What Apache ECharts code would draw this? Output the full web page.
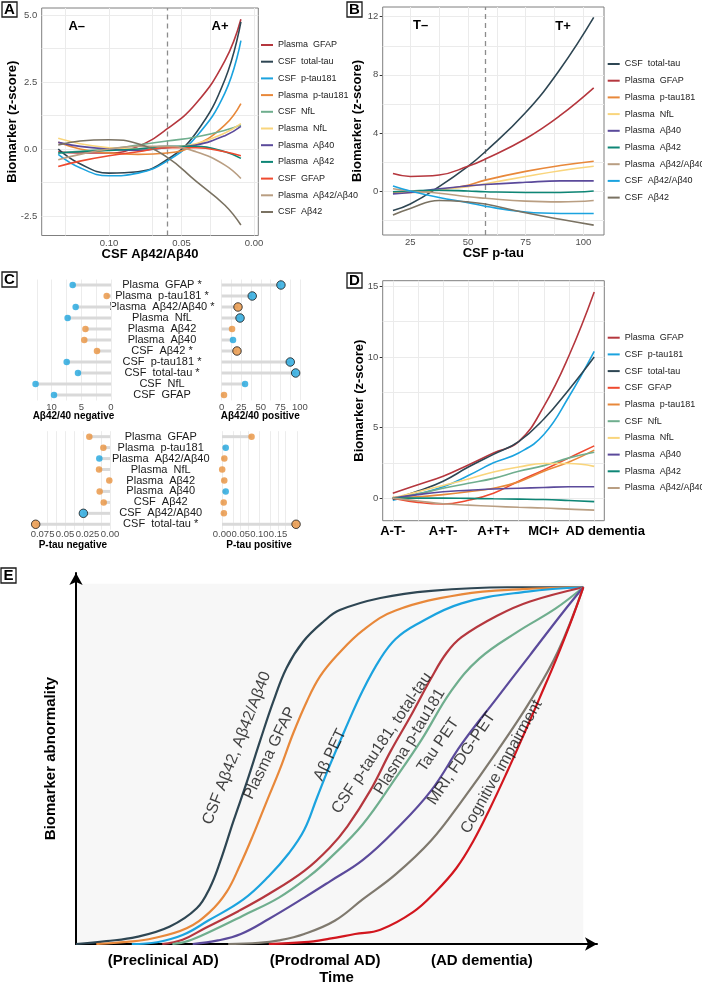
<!DOCTYPE html>
<html><head><meta charset="utf-8">
<script src="https://cdn.jsdelivr.net/npm/echarts@6/dist/echarts.min.js"></script>
<style>html,body{margin:0;padding:0;background:#fff}#c{width:702px;height:991px}</style>
</head><body><div id="c"></div>
<script>
const FONT = 'Liberation Sans, Arial, Helvetica, sans-serif';

// ---------- Panel A : CSF Aβ42/Aβ40 ----------
const aX = [0.135, 0.12, 0.10, 0.08, 0.06, 0.04, 0.02, 0.009];
const A_PlasmaGFAP    = [-0.1, -0.15, -0.15, 0.1, 0.75, 1.7, 3.3, 4.85];
const A_CSFtotaltau   = [0, -0.55, -0.9, -0.85, -0.4, 0.6, 2.6, 4.75];
const A_CSFptau181    = [-0.2, -0.7, -1.0, -0.9, -0.45, 0.45, 2.1, 4.05];
const A_Plasmaptau181 = [0.25, 0.0, -0.15, -0.2, -0.15, 0.15, 0.9, 1.7];
const A_CSFNfL        = [-0.15, -0.08, 0.0, 0.15, 0.3, 0.45, 0.7, 0.9];
const A_PlasmaNfL     = [0.4, 0.2, 0.05, 0.0, 0.05, 0.2, 0.6, 0.95];
const A_PlasmaAb40    = [0.25, 0.1, 0.0, -0.05, 0.05, 0.15, 0.5, 0.85];
const A_PlasmaAb42    = [-0.15, -0.1, -0.05, 0.0, 0.1, 0.1, -0.1, -0.35];
const A_CSFGFAP       = [-0.65, -0.45, -0.25, -0.1, 0.05, 0.05, -0.1, -0.25];
const A_PlasmaAb4240  = [-0.4, -0.2, 0.0, 0.1, 0.1, -0.1, -0.6, -1.1];
const A_CSFAb42       = [0.15, 0.3, 0.35, 0.2, -0.3, -1.2, -2.1, -2.84];
const aCut = 0.06;
const aXTicks = [0, 0.05, 0.10], aXTickText = ['0.00', '0.05', '0.10'];
const aYTicks = [-2.5, 0, 2.5, 5], aYTickText = ['-2.5', '0.0', '2.5', '5.0'];
const aXGrid = [0, 0.025, 0.05, 0.075, 0.1, 0.125];
const aYGrid = [-2.5, -1.25, 0, 1.25, 2.5, 3.75, 5];

// ---------- Panel B : CSF p-tau ----------
const bX = [17.5, 25, 37.5, 50, 57.5, 75, 90, 104.5];
const B_CSFtotaltau   = [-1.35, -0.9, 0.3, 1.7, 2.7, 5.4, 8.4, 11.95];
const B_PlasmaGFAP    = [1.2, 1.0, 1.1, 1.7, 2.2, 3.6, 5.2, 7.1];
const B_Plasmaptau181 = [-0.1, -0.1, 0.1, 0.4, 0.75, 1.35, 1.75, 2.05];
const B_PlasmaNfL     = [-0.15, -0.1, 0.1, 0.3, 0.5, 1.0, 1.4, 1.7];
const B_PlasmaAb40    = [-0.2, -0.1, 0.15, 0.35, 0.45, 0.6, 0.7, 0.7];
const B_PlasmaAb42    = [-0.05, 0, 0.05, 0, -0.05, -0.1, -0.1, 0];
const B_PlasmaAb4240  = [0.15, 0, -0.15, -0.4, -0.5, -0.7, -0.75, -0.65];
const B_CSFAb4240     = [0.35, 0, -0.45, -0.8, -1.05, -1.45, -1.55, -1.55];
const B_CSFAb42       = [-1.65, -1.2, -0.65, -0.75, -0.9, -1.5, -1.95, -2.35];
const bCut = 57.5;
const bXTicks = [25, 50, 75, 100], bXTickText = ['25', '50', '75', '100'];
const bYTicks = [0, 4, 8, 12], bYTickText = ['0', '4', '8', '12'];
const bXGrid = [25, 37.5, 50, 62.5, 75, 87.5, 100];
const bYGrid = [-2, 0, 2, 4, 6, 8, 10, 12];

// ---------- Panel C : lollipops ----------
const cTopCats = ['Plasma  GFAP *', 'Plasma  p-tau181 *', 'Plasma  Aβ42/Aβ40 *', 'Plasma  NfL', 'Plasma  Aβ42', 'Plasma  Aβ40', 'CSF  Aβ42 *', 'CSF  p-tau181 *', 'CSF  total-tau *', 'CSF  NfL', 'CSF  GFAP'];
const cTopNeg    = [6.45, 0.73, 5.95, 7.3, 4.3, 4.5, 2.36, 7.46, 5.56, 12.7, 9.6];
const cTopNegDir = ['b', 'o', 'b', 'b', 'o', 'o', 'o', 'b', 'b', 'b', 'b'];
const cTopNegSig = [0, 0, 0, 0, 0, 0, 0, 0, 0, 0, 0];
const cTopPos    = [75.7, 39, 20.8, 23.4, 13.2, 14.4, 19.5, 87.6, 94.5, 29.8, 2.9];
const cTopPosDir = ['b', 'b', 'o', 'b', 'o', 'b', 'o', 'b', 'b', 'b', 'o'];
const cTopPosSig = [1, 1, 1, 1, 0, 0, 1, 1, 1, 0, 0];
const cBotCats = ['Plasma  GFAP', 'Plasma  p-tau181', 'Plasma  Aβ42/Aβ40', 'Plasma  NfL', 'Plasma  Aβ42', 'Plasma  Aβ40', 'CSF  Aβ42', 'CSF  Aβ42/Aβ40', 'CSF  total-tau *'];
const cBotNeg    = [0.023, 0.0074, 0.0119, 0.0122, 0.0008, 0.0115, 0.007, 0.0296, 0.0826];
const cBotNegDir = ['o', 'o', 'b', 'o', 'o', 'o', 'o', 'b', 'o'];
const cBotNegSig = [0, 0, 0, 0, 0, 0, 0, 1, 1];
const cBotPos    = [0.079, 0.0099, 0.0062, 0.0005, 0.006, 0.0099, 0.0045, 0.005, 0.198];
const cBotPosDir = ['o', 'b', 'o', 'o', 'o', 'b', 'o', 'o', 'o'];
const cBotPosSig = [0, 0, 0, 0, 0, 0, 0, 0, 1];
const cTLTicks = [0, 5, 10], cTLTickText = ['0', '5', '10'];
const cTRTicks = [0, 25, 50, 75, 100], cTRTickText = ['0', '25', '50', '75', '100'];
const cBLTicks = [0, 0.025, 0.05, 0.075], cBLTickText = ['0.00', '0.025', '0.05', '0.075'];
const cBRTicks = [0, 0.05, 0.10, 0.15], cBRTickText = ['0.00', '0.05', '0.10', '0.15'];
const cTLGrid = [0, 2.5, 5, 7.5, 10, 12.5];
const cTRGrid = [0, 12.5, 25, 37.5, 50, 62.5, 75, 87.5, 100];
const cBLGrid = [0, 0.0125, 0.025, 0.0375, 0.05, 0.0625, 0.075];
const cBRGrid = [0, 0.025, 0.05, 0.075, 0.1, 0.125, 0.15, 0.175, 0.2];

// ---------- Panel D : clinical stages ----------
const dCats = ['A-T-', 'A+T-', 'A+T+', 'MCI+', '{shift|AD dementia}'];
const dX = [1, 1.5, 2, 2.5, 3, 3.5, 4, 4.5, 5];
const D_PlasmaGFAP    = [0.35, 0.95, 1.55, 2.35, 3.2, 4.0, 6.5, 10.1, 14.6];
const D_CSFptau181    = [-0.15, 0.3, 0.8, 1.6, 2.5, 3.2, 4.5, 7.2, 10.4];
const D_CSFtotaltau   = [-0.1, 0.5, 1.2, 2.2, 3.1, 4.0, 5.6, 7.7, 10.0];
const D_CSFGFAP       = [0, -0.3, -0.42, -0.15, 0.35, 1.2, 2.0, 2.85, 3.7];
const D_Plasmaptau181 = [0.05, 0.1, 0.25, 0.45, 0.7, 1.15, 1.9, 2.55, 3.4];
const D_CSFNfL        = [0, 0.3, 0.7, 1.05, 1.4, 1.9, 2.3, 2.85, 3.25];
const D_PlasmaNfL     = [0, 0.45, 0.9, 1.35, 1.85, 2.2, 2.45, 2.45, 2.25];
const D_PlasmaAb40    = [0, 0.25, 0.45, 0.55, 0.65, 0.7, 0.75, 0.8, 0.8];
const D_PlasmaAb42    = [0, 0, 0, -0.02, -0.05, -0.07, -0.1, -0.17, -0.25];
const D_PlasmaAb4240  = [0, -0.2, -0.4, -0.5, -0.58, -0.65, -0.7, -0.78, -0.85];
const dXTicks = [1, 2, 3, 4, 5];
const dYTicks = [0, 5, 10, 15], dYTickText = ['0', '5', '10', '15'];
const dXGrid = [1, 1.5, 2, 2.5, 3, 3.5, 4, 4.5, 5];
const dYGrid = [0, 2.5, 5, 7.5, 10, 12.5, 15];

// ---------- Panel E : hypothetical model ----------
const E_CSFAb     = [[0,0],[6,0.8],[12,2],[18.5,4.9],[23.8,10],[26.4,15.8],[28.4,23],[31,34.3],[33.7,45.5],[36.3,57],[38.9,68],[41.5,77.4],[44.8,84.8],[48.8,90.4],[52,93.6],[60,97],[70,99],[85,100],[100,100]];
const E_GFAP      = [[4,0],[10,0.6],[15.2,1.6],[21.8,4.4],[26.4,9],[29.7,14.6],[32.3,22],[34.9,30.5],[37.6,40],[40.2,49],[42.8,59],[45.5,68],[48.1,75],[51.5,81],[56.6,88],[63,93.5],[76,98],[88,99.5],[100,100]];
const E_AbPET     = [[11,0],[16,0.5],[21,2.5],[26,6.5],[33,12.5],[38,19],[42,25.5],[45,32],[47.5,41],[50,50],[53,60],[56.5,71],[60,80],[63,85.5],[67,89.5],[76,95.5],[89,98.8],[100,100]];
const E_CSFptau   = [[17,0],[21,1.2],[25.5,4.5],[32,9.2],[38,14],[45,20.5],[50,27],[53.5,33],[58,43],[62,54],[66,64],[70,74.5],[73,81.5],[76,86],[83,92],[89.5,96],[100,100]];
const E_Pptau     = [[19,0],[22,0.8],[26.5,3.5],[33,8],[40,13],[46,19],[50,24],[56.5,33.5],[63,46.5],[68,57],[74,71],[79.5,80],[87,87.5],[94.5,94],[100,100]];
const E_TauPET    = [[23,0],[28,1],[32.5,2.8],[38,7],[45,13],[50,17.5],[56.5,23.5],[63,32],[70,43],[76,56],[83,69],[89.5,81],[96,93],[100,100]];
const E_MRI       = [[30,0],[36,0.3],[40,1],[45,2.8],[51,6.5],[56.5,12.5],[63,19.5],[70,29],[76,40],[83,54],[89.5,68],[95,82],[100,100]];
const E_Cog       = [[38,0],[45,0.5],[50,1.5],[55,2.8],[60,4],[66.5,9],[71,14.8],[75,21.3],[78.3,28.8],[81.6,38],[84.9,48],[88.2,58.5],[91.4,69],[94.7,80],[98,92],[100,100]];
const eStageTicks = [17.2, 49.1, 80], eStageText = ['(Preclinical AD)', '(Prodromal AD)', '(AD dementia)'];
const eLabText = ['CSF Aβ42, Aβ42/Aβ40', 'Plasma GFAP', 'Aβ PET', 'CSF p-tau181, total-tau', 'Plasma p-tau181', 'Tau PET', 'MRI, FDG-PET', 'Cognitive impairment'];
const eLabPos  = [[31.7, 54.9], [38.2, 53.5], [50.1, 53], [60.3, 56.3], [65.8, 56.7], [71.4, 55.8], [76, 52], [83.9, 49.7]];
const eLabRot  = [68.6, 64.2, 64, 56, 58.4, 55.5, 55.8, 60.7];

// ---------- colours ----------
const COL = {
  'Plasma  GFAP': '#b5373e', 'CSF  total-tau': '#2e4653', 'CSF  p-tau181': '#1ba3df',
  'Plasma  p-tau181': '#e8883a', 'CSF  NfL': '#6fae8e', 'Plasma  NfL': '#f9d57c',
  'Plasma  Aβ40': '#5b4a9b', 'Plasma  Aβ42': '#0e8676', 'CSF  GFAP': '#ef4a2f',
  'Plasma  Aβ42/Aβ40': '#b99e82', 'CSF  Aβ42': '#7a7262', 'CSF  Aβ42/Aβ40': '#1ba3df'
};
const DOT = { b: '#1fa5dd', o: '#e8923f' };
const E_COL = ['#2e4653', '#e8883a', '#1ba3df', '#b5373e', '#6fae8e', '#5b4a9b', '#7f796e', '#d2161e'];

// ---------- helpers ----------
function curve(name, gi, xs, ys) {
  return { type: 'line', name, xAxisIndex: gi, yAxisIndex: gi, data: xs.map((x, i) => [x, ys[i]]),
    smooth: 0.45, showSymbol: false, symbol: 'none', silent: true, z: 3,
    lineStyle: { color: COL[name], width: 1.6 }, itemStyle: { color: COL[name] } };
}
function gridLines(gi, xs, ys, color) {
  return { type: 'line', xAxisIndex: gi, yAxisIndex: gi, data: [], silent: true,
    markLine: { silent: true, z: 1, symbol: ['none', 'none'], animation: false, label: { show: false },
      lineStyle: { color: color || '#ebebeb', width: 1, type: 'solid' },
      data: [...xs.map(v => ({ xAxis: v })), ...ys.map(v => ({ yAxis: v }))] } };
}
function cutLine(gi, x) {
  return { type: 'line', xAxisIndex: gi, yAxisIndex: gi, data: [], silent: true,
    markLine: { silent: true, z: 2, symbol: ['none', 'none'], animation: false, label: { show: false },
      lineStyle: { color: '#8c8c8c', width: 1.3, type: [5, 4] }, data: [{ xAxis: x }] } };
}
function fmtFrom(vals, texts) {
  return v => { let k = 0, b = Infinity; vals.forEach((t, i) => { const d = Math.abs(t - v); if (d < b) { b = d; k = i; } }); return texts[k]; };
}
function vAxis(gi, min, max, vals, texts, opt) {
  opt = opt || {};
  const ax = { type: 'value', gridIndex: gi, min, max, inverse: !!opt.inverse,
    splitLine: { show: false }, axisLine: { show: false },
    axisTick: { show: !!opt.ticks, customValues: vals, length: 3, lineStyle: { color: '#333', width: 1 } },
    axisLabel: { show: true, customValues: vals, formatter: fmtFrom(vals, texts), color: opt.labelColor || '#4d4d4d',
      hideOverlap: false, showMinLabel: true, showMaxLabel: true,
      fontSize: opt.labelSize || 9.5, fontWeight: opt.labelWeight || 'normal', fontFamily: FONT, margin: opt.margin != null ? opt.margin : 3,
      rich: opt.rich },
    nameMoveOverlap: false };
  if (opt.name) {
    ax.name = opt.name; ax.nameLocation = 'middle'; ax.nameGap = opt.nameGap;
    if (opt.nameRotate != null) ax.nameRotate = opt.nameRotate;
    ax.nameTextStyle = { fontFamily: FONT, fontWeight: 'bold', fontSize: opt.nameSize || 13, color: '#000' };
  }
  return ax;
}
function catAxis(gi, cats, showLabels) {
  return { type: 'category', gridIndex: gi, data: cats, inverse: true, position: 'right',
    axisLine: { show: false }, axisTick: { show: false }, splitLine: { show: false },
    axisLabel: { show: showLabels, interval: 0, hideOverlap: false, align: 'center', margin: 47, fontSize: 11, color: '#1a1a1a', fontFamily: FONT } };
}
function lolli(gi, vals, dirs, sigs) {
  return [
    { type: 'bar', xAxisIndex: gi, yAxisIndex: gi, data: vals, barWidth: 3, silent: true, z: 2,
      itemStyle: { color: '#d9d9d9' } },
    { type: 'scatter', xAxisIndex: gi, yAxisIndex: gi, silent: true, z: 4,
      data: vals.map((v, i) => ({ value: [v, i], symbolSize: sigs[i] ? 8.5 : 6.5,
        itemStyle: { color: DOT[dirs[i]], borderColor: sigs[i] ? '#1a1a1a' : DOT[dirs[i]], borderWidth: sigs[i] ? 1 : 0 } })) }
  ];
}
function legend(left, top, names) {
  return { show: true, orient: 'vertical', left, top, padding: 0, itemWidth: 12, itemHeight: 2, itemGap: 6.7,
    icon: 'rect', selectedMode: false, data: names,
    textStyle: { fontFamily: FONT, fontSize: 9, lineHeight: 10, color: '#1a1a1a' } };
}
function box(L, x, y) {
  return { type: 'group', x, y, children: [
    { type: 'rect', shape: { x: 0, y: 0, width: 15, height: 15 }, style: { fill: '#fff', stroke: '#1a1a1a', lineWidth: 1.3 } },
    { type: 'text', x: 7.5, y: 8, style: { text: L, fill: '#000', font: 'bold 15px "Liberation Sans", Arial', align: 'center', verticalAlign: 'middle' } } ] };
}
function note(t, x, y) {
  return { type: 'text', x, y, style: { text: t, fill: '#000', font: 'bold 13px "Liberation Sans", Arial', align: 'center', verticalAlign: 'middle' } };
}
const framed = { show: true, borderColor: '#7f7f7f', borderWidth: 1, backgroundColor: '#fff', outerBoundsMode: 'none' };

const aOrder = ['Plasma  GFAP', 'CSF  total-tau', 'CSF  p-tau181', 'Plasma  p-tau181', 'CSF  NfL', 'Plasma  NfL', 'Plasma  Aβ40', 'Plasma  Aβ42', 'CSF  GFAP', 'Plasma  Aβ42/Aβ40', 'CSF  Aβ42'];
const bOrder = ['CSF  total-tau', 'Plasma  GFAP', 'Plasma  p-tau181', 'Plasma  NfL', 'Plasma  Aβ40', 'Plasma  Aβ42', 'Plasma  Aβ42/Aβ40', 'CSF  Aβ42/Aβ40', 'CSF  Aβ42'];
const dOrder = ['Plasma  GFAP', 'CSF  p-tau181', 'CSF  total-tau', 'CSF  GFAP', 'Plasma  p-tau181', 'CSF  NfL', 'Plasma  NfL', 'Plasma  Aβ40', 'Plasma  Aβ42', 'Plasma  Aβ42/Aβ40'];

const series = [
  gridLines(0, aXGrid, aYGrid), cutLine(0, aCut),
  curve('Plasma  GFAP', 0, aX, A_PlasmaGFAP), curve('CSF  total-tau', 0, aX, A_CSFtotaltau),
  curve('CSF  p-tau181', 0, aX, A_CSFptau181), curve('Plasma  p-tau181', 0, aX, A_Plasmaptau181),
  curve('CSF  NfL', 0, aX, A_CSFNfL), curve('Plasma  NfL', 0, aX, A_PlasmaNfL),
  curve('Plasma  Aβ40', 0, aX, A_PlasmaAb40), curve('Plasma  Aβ42', 0, aX, A_PlasmaAb42),
  curve('CSF  GFAP', 0, aX, A_CSFGFAP), curve('Plasma  Aβ42/Aβ40', 0, aX, A_PlasmaAb4240),
  curve('CSF  Aβ42', 0, aX, A_CSFAb42),

  gridLines(1, bXGrid, bYGrid), cutLine(1, bCut),
  curve('CSF  total-tau', 1, bX, B_CSFtotaltau), curve('Plasma  GFAP', 1, bX, B_PlasmaGFAP),
  curve('Plasma  p-tau181', 1, bX, B_Plasmaptau181), curve('Plasma  NfL', 1, bX, B_PlasmaNfL),
  curve('Plasma  Aβ40', 1, bX, B_PlasmaAb40), curve('Plasma  Aβ42', 1, bX, B_PlasmaAb42),
  curve('Plasma  Aβ42/Aβ40', 1, bX, B_PlasmaAb4240), curve('CSF  Aβ42/Aβ40', 1, bX, B_CSFAb4240),
  curve('CSF  Aβ42', 1, bX, B_CSFAb42),

  gridLines(2, cTLGrid, [], '#ececec'), gridLines(3, cTRGrid, [], '#ececec'),
  gridLines(4, cBLGrid, [], '#ececec'), gridLines(5, cBRGrid, [], '#ececec'),
  ...lolli(2, cTopNeg, cTopNegDir, cTopNegSig), ...lolli(3, cTopPos, cTopPosDir, cTopPosSig),
  ...lolli(4, cBotNeg, cBotNegDir, cBotNegSig), ...lolli(5, cBotPos, cBotPosDir, cBotPosSig),

  gridLines(6, dXGrid, dYGrid),
  curve('Plasma  GFAP', 6, dX, D_PlasmaGFAP), curve('CSF  p-tau181', 6, dX, D_CSFptau181),
  curve('CSF  total-tau', 6, dX, D_CSFtotaltau), curve('CSF  GFAP', 6, dX, D_CSFGFAP),
  curve('Plasma  p-tau181', 6, dX, D_Plasmaptau181), curve('CSF  NfL', 6, dX, D_CSFNfL),
  curve('Plasma  NfL', 6, dX, D_PlasmaNfL), curve('Plasma  Aβ40', 6, dX, D_PlasmaAb40),
  curve('Plasma  Aβ42', 6, dX, D_PlasmaAb42), curve('Plasma  Aβ42/Aβ40', 6, dX, D_PlasmaAb4240),

  { type: 'line', xAxisIndex: 7, yAxisIndex: 7, data: [], silent: true,
    markArea: { silent: true, z: 0, itemStyle: { color: '#f7f7f7' }, data: [[{ coord: [0, 0] }, { coord: [100, 101] }]] } },
  ...[E_CSFAb, E_GFAP, E_AbPET, E_CSFptau, E_Pptau, E_TauPET, E_MRI, E_Cog].map((d, i) => ({
    type: 'line', name: 'E' + i, xAxisIndex: 7, yAxisIndex: 7, data: d, smooth: 0.4, showSymbol: false, symbol: 'none',
    silent: true, z: 3, lineStyle: { color: E_COL[i], width: 2.2 }, itemStyle: { color: E_COL[i] } })),
  { type: 'scatter', xAxisIndex: 7, yAxisIndex: 7, symbolSize: 0.1, silent: true, z: 5, itemStyle: { color: 'transparent' },
    data: eLabPos.map((p, i) => ({ value: p, label: { show: true, position: 'inside', rotate: eLabRot[i], formatter: eLabText[i],
      fontSize: 16, color: '#111', fontFamily: FONT } })) }
];

const option = {
  animation: false,
  backgroundColor: '#fff',
  textStyle: { fontFamily: FONT },
  grid: [
    Object.assign({ left: 41.7, top: 8, width: 216.6, height: 227.5 }, framed),
    Object.assign({ left: 382.7, top: 7, width: 221.3, height: 228 }, framed),
    { left: 32, top: 279.5, width: 83, height: 121, outerBoundsMode: 'none' },
    { left: 218.2, top: 279.5, width: 84.1, height: 121, outerBoundsMode: 'none' },
    { left: 32, top: 431.2, width: 81.7, height: 98.55, outerBoundsMode: 'none' },
    { left: 218.3, top: 431.2, width: 81.5, height: 98.55, outerBoundsMode: 'none' },
    Object.assign({ left: 382.7, top: 280.7, width: 221.6, height: 240 }, framed),
    { left: 76, top: 573, width: 521, height: 371, outerBoundsMode: 'none' }
  ],
  xAxis: [
    vAxis(0, -0.003, 0.1464, aXTicks, aXTickText, { inverse: true, ticks: true, margin: 2.5, name: 'CSF Aβ42/Aβ40', nameGap: 12 }),
    vAxis(1, 13.05, 108.96, bXTicks, bXTickText, { ticks: true, margin: 2.5, name: 'CSF p-tau', nameGap: 12 }),
    vAxis(2, -0.673, 13.3, cTLTicks, cTLTickText, { inverse: true, margin: 1.5, name: 'Aβ42/40 negative', nameGap: 11, nameSize: 10 }),
    vAxis(3, -4.5, 103, cTRTicks, cTRTickText, { margin: 1.5, name: 'Aβ42/40 positive', nameGap: 11, nameSize: 10 }),
    vAxis(4, -0.0041, 0.0867, cBLTicks, cBLTickText, { inverse: true, margin: 0, name: 'P-tau negative', nameGap: 10, nameSize: 10 }),
    vAxis(5, -0.0099, 0.208, cBRTicks, cBRTickText, { margin: 0, name: 'P-tau positive', nameGap: 10, nameSize: 10 }),
    vAxis(6, 0.8, 5.2, dXTicks, dCats, { ticks: true, margin: 4, labelSize: 13, labelWeight: 'bold', labelColor: '#000',
      rich: { shift: { fontSize: 13, fontWeight: 'bold', color: '#000', fontFamily: FONT, padding: [0, 0, 0, 22] } } }),
    Object.assign(vAxis(7, 0, 102.7, eStageTicks, eStageText, { margin: 9, labelSize: 15, labelWeight: 'bold', labelColor: '#000', name: 'Time', nameGap: 26, nameSize: 15 }),
      { axisLine: { show: true, symbol: ['none', 'arrow'], symbolSize: [10, 12], lineStyle: { color: '#000', width: 2 } } })
  ],
  yAxis: [
    vAxis(0, -3.23, 5.27, aYTicks, aYTickText, { ticks: true, margin: 4.5, name: 'Biomarker (z-score)', nameGap: 23, nameRotate: 90 }),
    vAxis(1, -3.03, 12.67, bYTicks, bYTickText, { ticks: true, margin: 4.5, name: 'Biomarker (z-score)', nameGap: 19, nameRotate: 90 }),
    catAxis(2, cTopCats, true),
    catAxis(3, cTopCats, false),
    catAxis(4, cBotCats, true),
    catAxis(5, cBotCats, false),
    vAxis(6, -1.6, 15.4, dYTicks, dYTickText, { ticks: true, margin: 4.5, name: 'Biomarker (z-score)', nameGap: 17, nameRotate: 90 }),
    Object.assign(vAxis(7, 0, 104, [], [], { name: 'Biomarker abnormality', nameGap: 18, nameRotate: 90, nameSize: 15 }),
      { axisLabel: { show: false }, axisTick: { show: false },
        axisLine: { show: true, symbol: ['none', 'arrow'], symbolSize: [10, 12], lineStyle: { color: '#000', width: 2 } } })
  ],
  legend: [legend(261, 40, aOrder), legend(607.7, 59, bOrder), legend(607.7, 332.7, dOrder)],
  graphic: [
    box('A', 2, 2), box('B', 347, 2), box('C', 2, 272), box('D', 347, 273), box('E', 1, 568),
    note('A–', 76.7, 26.7), note('A+', 220, 26.7), note('T–', 420.7, 25.7), note('T+', 563, 26)
  ],
  series
};
const chart = echarts.init(document.getElementById('c'), null, { renderer: 'canvas' });
chart.setOption(option);
</script></body></html>
